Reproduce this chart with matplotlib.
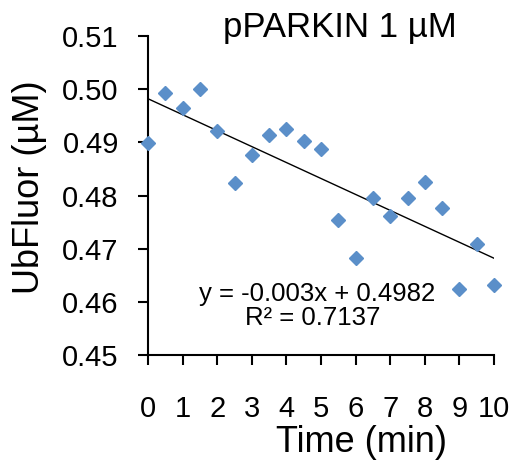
import matplotlib
matplotlib.use("Agg")
import matplotlib.pyplot as plt
import numpy as np

# Data
time_min = [0, 0.5, 1, 1.5, 2, 2.5, 3, 3.5, 4, 4.5, 5, 5.5, 6, 6.5, 7, 7.5, 8, 8.5, 9, 9.5, 10]
ubfluor = [0.4898, 0.4992, 0.4964, 0.5000, 0.4922, 0.4823, 0.4876, 0.4913, 0.4925, 0.4903,
           0.4887, 0.4753, 0.4683, 0.4795, 0.4762, 0.4795, 0.4826, 0.4776, 0.4624, 0.4709, 0.4631]
trend_slope = -0.0030
trend_intercept = 0.4982
eq_text = "y = -0.003x + 0.4982"
r2_text = "R² = 0.7137"
title = "pPARKIN 1 µM"
x_ticks = list(range(0, 11))
y_ticks = [0.45, 0.46, 0.47, 0.48, 0.49, 0.50, 0.51]
y_ticklabels = ["0.45", "0.46", "0.47", "0.48", "0.49", "0.50", "0.51"]

plt.rcParams['font.family'] = ['Liberation Sans', 'DejaVu Sans']

W, H = 520, 468
fig = plt.figure(figsize=(W / 100, H / 100), dpi=100)
ax = fig.add_axes([148 / W, 1 - 355 / H, (494 - 148) / W, (355 - 36) / H])

color = '#5B8FC9'
ax.plot(time_min, ubfluor, linestyle='none', marker='D', markersize=7.5,
        color=color, markeredgecolor=color, clip_on=False, zorder=5)

xl = np.array([x_ticks[0], x_ticks[-1]])
ax.plot(xl, trend_slope * xl + trend_intercept, color='black', linewidth=1.0, zorder=4)

ax.set_xlim(0, 10)
ax.set_ylim(0.45, 0.51)
ax.set_xticks(x_ticks)
ax.set_xticklabels([str(t) for t in x_ticks])
ax.set_yticks(y_ticks)
ax.set_yticklabels(y_ticklabels)

for s in ['top', 'right']:
    ax.spines[s].set_visible(False)
for s in ['left', 'bottom']:
    ax.spines[s].set_linewidth(1.5)
    ax.spines[s].set_color('black')

ax.tick_params(axis='x', direction='out', length=7, width=1.5, labelsize=21, pad=22, colors='black')
ax.tick_params(axis='y', direction='out', length=7, width=1.5, labelsize=21, pad=14, colors='black')

fig.text(340 / W, 1 - 27 / H, title, ha='center', va='center', fontsize=25)
fig.text(362 / W, 1 - 442 / H, "Time (min)", ha='center', va='center', fontsize=26)
fig.text(30 / W, 1 - 187 / H, "UbFluor (µM)", ha='center', va='center', rotation=90, fontsize=26)

fig.text(317 / W, 1 - 294 / H, eq_text, ha='center', va='center', fontsize=18.5)
fig.text(313 / W, 1 - 318 / H, r2_text, ha='center', va='center', fontsize=18.5)

fig.savefig("out.png", dpi=100)
